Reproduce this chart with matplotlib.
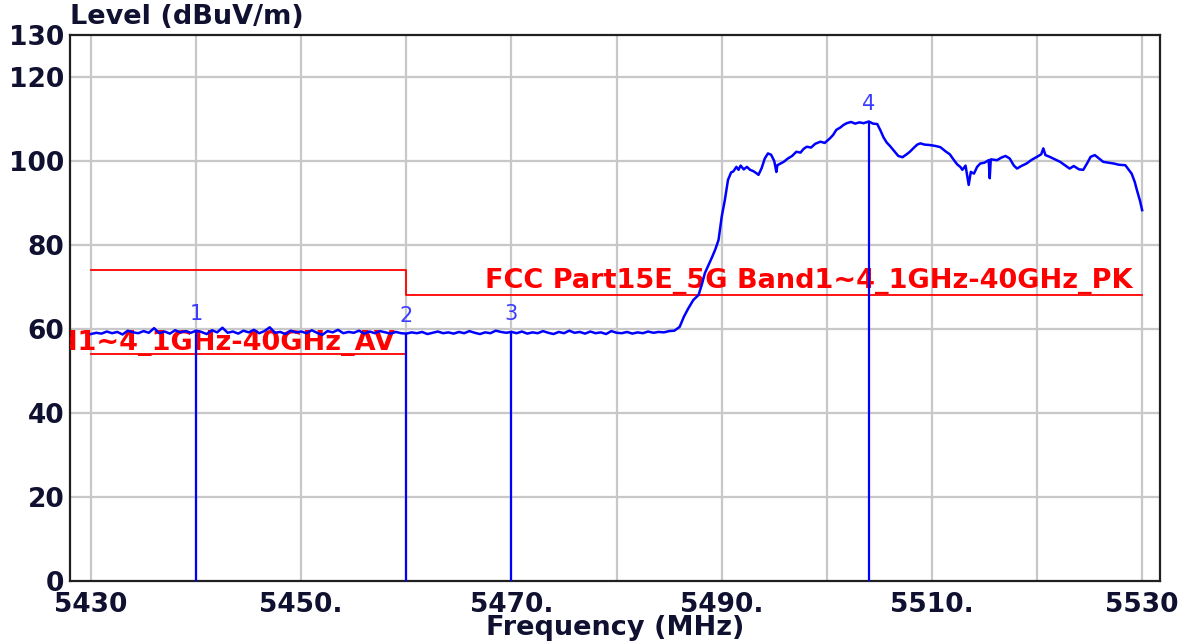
import numpy as np
import matplotlib
matplotlib.use("Agg")
import matplotlib.pyplot as plt

# ---- data ----
flat_start, flat_stop, flat_step = 5430.0, 5485.0, 0.5
flat_level = [
    58.8, 59.1, 58.9, 59.4, 59.0, 59.3, 58.7, 59.6, 59.2, 59.0,
    59.5, 59.1, 60.2, 59.0, 59.4, 58.9, 59.7, 59.2, 59.5, 59.1,
    59.6, 59.3, 58.8, 59.7, 59.2, 60.3, 59.1, 59.4, 58.9, 59.6,
    59.2, 59.8, 59.0, 59.5, 60.4, 59.1, 59.3, 58.8, 59.6, 59.2,
    59.4, 59.0, 59.7, 59.1, 58.6, 59.5, 59.2, 59.8, 59.0, 59.3,
    59.1, 59.6, 58.9, 59.4, 59.0, 59.5, 59.2, 58.9, 59.3, 59.0,
    58.9, 59.2, 59.0, 59.3, 58.8, 59.1, 59.4, 59.0, 59.2, 58.9,
    59.3, 59.0, 59.5, 59.1, 58.8, 59.2, 59.0, 59.6, 59.3, 59.1,
    59.3, 59.0, 59.4, 58.9, 59.2, 59.0, 59.5, 59.1, 58.8, 59.3,
    59.0, 59.6, 59.1, 59.3, 58.9, 59.4, 59.0, 59.2, 58.8, 59.5,
    59.1, 59.0, 59.3, 58.9, 59.2, 59.0, 59.4, 59.1, 59.3, 59.2,
    59.5,
]
active_freq = [
    5485.5, 5486.0, 5486.4, 5486.8, 5487.3, 5487.8, 5488.1, 5488.4, 5488.8, 5489.1,
    5489.4, 5489.7, 5490.0, 5490.3, 5490.6, 5490.9, 5491.1, 5491.4, 5491.6, 5491.8,
    5492.1, 5492.4, 5492.7, 5493.0, 5493.3, 5493.5, 5493.8, 5494.1, 5494.4, 5494.7,
    5495.0, 5495.2, 5495.3, 5495.6, 5495.9, 5496.3, 5496.7, 5497.1, 5497.5, 5497.8,
    5498.1, 5498.5, 5498.9, 5499.4, 5499.8, 5500.3, 5500.6, 5500.9, 5501.3, 5501.6,
    5501.9, 5502.3, 5502.7, 5503.1, 5503.5, 5504.0, 5504.4, 5504.8, 5505.1, 5505.4,
    5505.7, 5506.0, 5506.4, 5506.8, 5507.2, 5507.6, 5507.9, 5508.3, 5508.6, 5508.9,
    5509.3, 5509.8, 5510.3, 5510.8, 5511.3, 5511.7, 5512.1, 5512.4, 5512.7, 5512.9,
    5513.2, 5513.5, 5513.7, 5514.0, 5514.3, 5514.6, 5515.0, 5515.4, 5515.5, 5515.6,
    5516.2, 5516.6, 5517.0, 5517.4, 5517.8, 5518.1, 5518.5, 5519.0, 5519.5, 5520.0,
    5520.4, 5520.6, 5520.8, 5521.2, 5521.7, 5522.2, 5522.6, 5523.1, 5523.5, 5524.0,
    5524.4, 5524.8, 5525.1, 5525.5, 5525.9, 5526.3, 5526.8, 5527.3, 5527.8, 5528.4,
    5528.7, 5529.0, 5529.3, 5529.5, 5529.8, 5530.0,
]
active_level = [
    59.6, 60.5, 62.9, 64.8, 66.9, 68.1, 70.5, 73.3, 75.5, 77.2,
    79.0, 81.2, 86.7, 90.7, 95.5, 97.3, 97.5, 98.6, 97.9, 98.9,
    98.0, 98.6, 97.9, 97.6, 97.1, 96.7, 98.3, 100.6, 101.8, 101.5,
    100.0, 97.4, 99.0, 99.4, 99.8, 100.6, 101.2, 102.2, 102.0, 102.9,
    103.4, 103.2, 104.1, 104.6, 104.3, 105.4, 106.2, 107.4, 108.0, 108.6,
    109.0, 109.3, 108.9, 109.2, 109.0, 109.4, 108.9, 108.8, 107.3, 105.6,
    104.4, 103.6, 102.4, 101.2, 100.9, 101.6, 102.2, 103.2, 103.9, 104.2,
    103.9, 103.8, 103.6, 103.3, 102.3, 101.6, 100.2, 99.2, 98.6, 97.9,
    98.9, 94.3, 97.4, 97.0, 98.6, 99.4, 99.6, 100.2, 95.9, 100.4,
    100.2, 100.8, 101.2, 100.6, 98.9, 98.2, 98.8, 99.4, 100.3, 101.0,
    101.6, 103.0, 101.4, 101.0, 100.4, 99.8, 99.1, 98.2, 98.8, 98.0,
    97.9, 99.6, 101.0, 101.4, 100.6, 99.8, 99.6, 99.4, 99.1, 99.0,
    98.0, 97.0, 95.0, 93.1, 90.5, 88.3,
]

marker_labels = ["1", "2", "3", "4"]
marker_freq = [5440.0, 5460.0, 5470.0, 5504.0]
marker_level = [59.5, 58.9, 59.3, 109.4]

pk_freq = [5430, 5460, 5460, 5530]
pk_limit = [74.0, 74.0, 68.0, 68.0]
av_freq = [5430, 5460]
av_limit = [54.0, 54.0]
pk_name = "FCC Part15E_5G Band1~4_1GHz-40GHz_PK"
av_name = "FCC Part15E_5G Band1~4_1GHz-40GHz_AV"

x_ticks = [5430, 5450, 5470, 5490, 5510, 5530]
x_tick_labels = ["5430", "5450.", "5470.", "5490.", "5510.", "5530"]
y_ticks = [0, 20, 40, 60, 80, 100, 120, 130]
y_tick_labels = ["0", "20", "40", "60", "80", "100", "120", "130"]

# ---- build trace ----
n_flat = int(round((flat_stop - flat_start) / flat_step)) + 1
flat_freq = np.linspace(flat_start, flat_stop, n_flat)
freq = np.concatenate([flat_freq, np.array(active_freq)])
level = np.concatenate([np.array(flat_level), np.array(active_level)])

W, H = 1192, 643
fig = plt.figure(figsize=(W / 100, H / 100), dpi=100)
ax = fig.add_axes([70 / W, 1 - 581 / H, (1160 - 70) / W, (581 - 35) / H])

ax.set_xlim(5428.0, 5531.7)
ax.set_ylim(0, 130)

# grid
for gx in range(5430, 5531, 10):
    ax.axvline(gx, color="#c8c8c8", lw=1.6, zorder=0)
for gy in range(20, 130, 20):
    ax.axhline(gy, color="#c8c8c8", lw=1.6, zorder=0)

# limit lines
ax.plot(pk_freq, pk_limit, color="#ff0000", lw=1.3, zorder=2)
ax.plot(av_freq, av_limit, color="#ff0000", lw=1.3, zorder=2)
ax.text(5529.1, 69.8, pk_name, color="#ff0000", fontsize=19.5,
        fontweight="bold", ha="right", va="baseline", zorder=3)
ax.text(5458.9, 55.0, av_name, color="#ff0000", fontsize=19.5,
        fontweight="bold", ha="right", va="baseline", zorder=3, clip_on=True)

# trace
ax.plot(freq, level, color="#0000ff", lw=1.8, zorder=4)

# markers
for lab, mf, ml in zip(marker_labels, marker_freq, marker_level):
    ax.plot([mf, mf], [0, ml], color="#0000ff", lw=1.6, zorder=5)
    ax.text(mf, ml + 1.8, lab, color="#3b3bff", fontsize=15,
            ha="center", va="bottom", zorder=6)

# axes styling
for s in ax.spines.values():
    s.set_linewidth(1.6)
    s.set_color("#202020")
ax.set_xticks(x_ticks)
ax.set_xticklabels(x_tick_labels)
ax.set_yticks(y_ticks)
ax.set_yticklabels(y_tick_labels)
ax.tick_params(length=0, labelsize=19, colors="#101030", pad=4)
for t in ax.get_xticklabels() + ax.get_yticklabels():
    t.set_fontweight("bold")
ax.tick_params(axis="x", labelsize=19, pad=8)

fig.text(615 / W, 1 - 628 / H, "Frequency (MHz)", ha="center", va="center",
         fontsize=19.5, fontweight="bold", color="#101030")
fig.text(70 / W, 1 - 17 / H, "Level (dBuV/m)", ha="left", va="center",
         fontsize=19.5, fontweight="bold", color="#101030")

fig.savefig("out.png", dpi=100)
